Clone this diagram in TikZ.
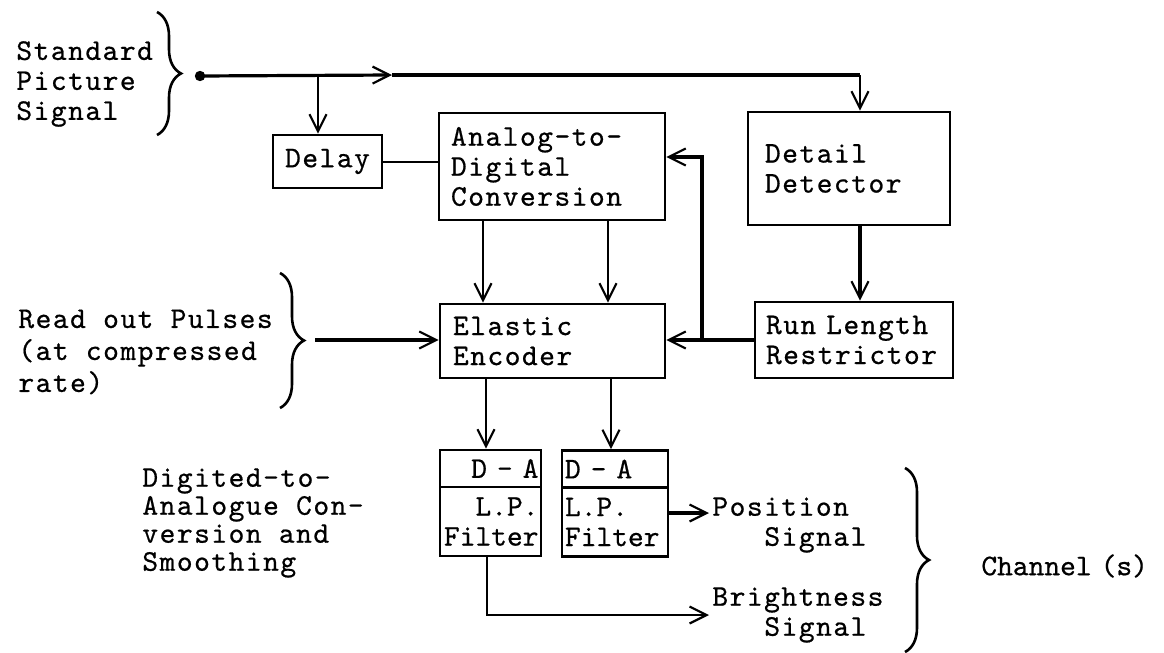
\documentclass[tikz,border=0pt]{standalone}
\usepackage{fontspec}
\newfontfamily\typew{lmmono10-regular.otf}[LetterSpace=5,FakeBold=0.6]
\newfontfamily\typewn{lmmono10-regular.otf}[FakeBold=0.6]
\usetikzlibrary{arrows.meta,decorations.pathreplacing,calc}
\begin{document}
\begin{tikzpicture}[x=0.5pt,y=-0.5pt,
  font=\typew\fontsize{15}{15}\selectfont,
  box/.style={draw,line width=1.3pt,inner sep=0pt},
  dabox/.style={box,font=\typewn\fontsize{15}{15}\selectfont},
  lbl/.style={align=left,inner sep=0pt},
  barb/.style={-{Straight Barb[length=8.5pt,width=8.5pt,line width=1.1pt]}},
  conn/.style={line width=1pt},
  heavy/.style={line width=1.6pt},
  brc/.style={line width=1.3pt,decorate,decoration={brace,amplitude=12pt}}]
\useasboundingbox (0,0) rectangle (1164,653);

% boxes
\node[box,minimum width=54.5pt,minimum height=26.5pt] (delay) at (327.5,161.5) {Delay};
\node[box,minimum width=113pt,minimum height=53.5pt,text width=101pt,align=left] (adc) at (552,166.5) {Analog-to-\\Digital\\Conversion};
\node[box,minimum width=101pt,minimum height=56.5pt,text width=84pt,align=left] (det) at (849,168.5) {Detail\\Detector};
\node[box,minimum width=112.5pt,minimum height=37pt,text width=99.5pt,align=left] (enc) at (552.5,341) {Elastic\\Encoder};
\node[box,minimum width=99pt,minimum height=38pt,text width=88pt,align=left] (rlr) at (854,340) {Run Length\\Restrictor};
\node[dabox,minimum width=50.5pt,minimum height=18.5pt,text width=48pt,align=right] (da1a) at (490.5,468.5) {D - A};
\node[dabox,minimum width=50.5pt,minimum height=34.5pt,text width=48pt,align=right] (da1b) at (490.5,521.5) {L.P.\\Filter};
\node[dabox,minimum width=53pt,minimum height=18.5pt,text width=50pt,align=left] (da2a) at (615,469) {D - A};
\node[dabox,minimum width=53pt,minimum height=34.5pt,text width=50pt,align=left] (da2b) at (615,522) {L.P.\\Filter};

% labels
\node[lbl,anchor=west] (std) at (16,84) {Standard\\Picture\\Signal};
\node[lbl,anchor=west] (ro) at (18,352) {Read out Pulses\\[1pt](at compressed\\[1pt]rate)};
\node[lbl,anchor=west,font=\typew\fontsize{15}{14}\selectfont] (dta) at (142,523) {Digited-to-\\Analogue Con-\\version and\\Smoothing};
\node[lbl,anchor=west] (pos) at (712,525) {Position\\\hspace*{26pt}Signal};
\node[lbl,anchor=west] (bri) at (712,615) {Brightness\\\hspace*{26pt}Signal};
\node[lbl,anchor=west,font=\typewn\fontsize{15}{15}\selectfont] (chan) at (981,566) {Channel\hspace{0.3em}(s)};

% braces
\draw[brc] (157,12) -- (157,135);
\draw[brc] (280,273) -- (280,408);
\draw[brc] (905,468) -- (905,652);

% coordinates
\coordinate (in) at (200,76);
\coordinate (mid) at (392,75);
\coordinate (turn) at (860,75);
\coordinate (br) at (318,75);
\coordinate (fb) at (702,340);
\coordinate (fbtop) at (702,157);
\coordinate (rin) at (315,340);
\coordinate (a1) at (483,220);
\coordinate (a2) at (608,220);
\coordinate (e1) at (486,378);
\coordinate (e2) at (611,378);
\coordinate (d1) at (487,556);
\coordinate (bcorner) at (487,615);
\coordinate (pstart) at (668,513);
\coordinate (pend) at (709,513);
\coordinate (bend) at (709,615);

% main signal line
\fill (in) circle (2.6pt);
\draw[heavy,barb] (in) -- (mid);
\draw[heavy] (mid) -- (turn);
\draw[conn,barb] (turn) -- (turn |- det.north);
\draw[conn,barb] (br) -- (br |- delay.north);
\draw[conn] (delay.east) -- (delay.east -| adc.west);

% ADC to encoder
\draw[conn,barb] (a1) -- (a1 |- enc.north);
\draw[conn,barb] (a2) -- (a2 |- enc.north);

% detail detector to run length
\draw[heavy,barb] (turn |- det.south) -- (turn |- rlr.north);

% run length to encoder and feedback
\draw[heavy,barb] (rlr.west) -- (rlr.west -| enc.east);
\draw[heavy,barb] (fb) -- (fbtop) -- (fbtop -| adc.east);

% readout pulses
\draw[heavy,barb] (rin) -- (rin -| enc.west);

% encoder to D-A
\draw[conn,barb] (e1) -- (e1 |- da1a.north);
\draw[conn,barb] (e2) -- (e2 |- da2a.north);

% outputs
\draw[heavy,barb] (pstart) -- (pend);
\draw[conn,barb] (d1) -- (bcorner) -- (bend);
\end{tikzpicture}
\end{document}
